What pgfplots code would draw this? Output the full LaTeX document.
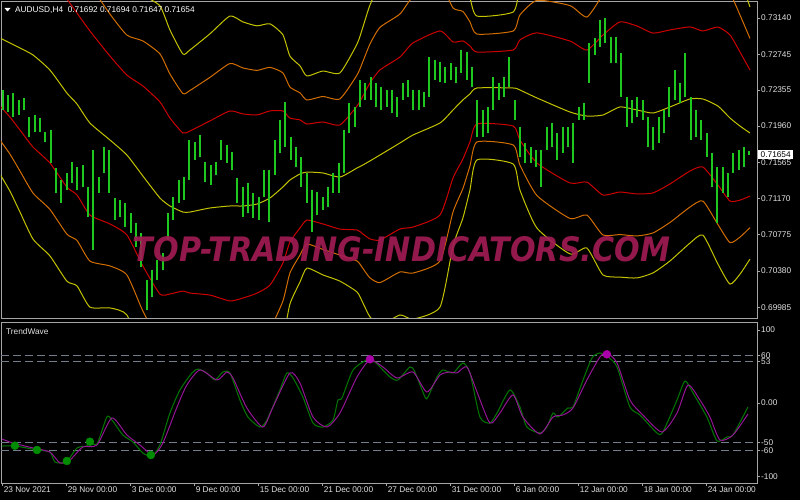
\documentclass[border=0pt]{standalone}
\usepackage{pgfplots}
\pgfplotsset{compat=1.18}
\usepackage{pgfplotstable}
\usetikzlibrary{calc}
\usepackage{graphicx}
\usepackage{fontspec}
\setmainfont{Liberation Sans}
\newfontfamily\wmfont{DejaVu Sans}

\definecolor{framec}{RGB}{165,165,165}
\definecolor{labc}{RGB}{225,225,225}
\definecolor{barg}{RGB}{30,200,30}
\definecolor{bandy}{RGB}{195,195,0}
\definecolor{bando}{RGB}{210,110,0}
\definecolor{bandr}{RGB}{205,0,0}
\definecolor{oscg}{RGB}{0,120,0}
\definecolor{oscm}{RGB}{150,20,150}
\definecolor{dotg}{RGB}{0,140,0}
\definecolor{dotm}{RGB}{170,0,170}
\definecolor{lvl}{RGB}{115,125,140}
\definecolor{wmc}{RGB}{160,28,84}

\pgfdeclarelayer{bg}
\pgfsetlayers{bg,main}

\newcommand\lbl{\fontsize{8.3bp}{10bp}\selectfont}

% bands: middle line and 2/3/4 width envelopes (price)
\pgfplotstableread{
x mid u2 u3 u4 l2 l3 l4
0 0.72921 0.73663 0.74034 0.74405 0.72179 0.71808 0.71437
3.75 0.72867 0.73675 0.74079 0.74483 0.72059 0.71655 0.71251
7.5 0.72812 0.73706 0.74153 0.74600 0.71918 0.71471 0.71024
12.4 0.72736 0.73740 0.74242 0.74744 0.71732 0.71230 0.70728
18.75 0.72572 0.73586 0.74093 0.74600 0.71558 0.71051 0.70544
25.1 0.72321 0.73347 0.73860 0.74373 0.71295 0.70782 0.70269
28.9 0.72201 0.73193 0.73689 0.74185 0.71209 0.70713 0.70217
33.75 0.71994 0.72998 0.73500 0.74002 0.70990 0.70488 0.69986
41.25 0.71809 0.72725 0.73183 0.73641 0.70893 0.70435 0.69977
47.6 0.71645 0.72517 0.72953 0.73389 0.70773 0.70337 0.69901
53.6 0.71416 0.72398 0.72889 0.73380 0.70434 0.69943 0.69452
60 0.71176 0.72224 0.72748 0.73272 0.70128 0.69604 0.69080
63.75 0.71089 0.72049 0.72529 0.73009 0.70129 0.69649 0.69169
68.6 0.71023 0.71885 0.72316 0.72747 0.70161 0.69730 0.69299
71.25 0.71023 0.71907 0.72349 0.72791 0.70139 0.69697 0.69255
78.75 0.71067 0.72017 0.72492 0.72967 0.70117 0.69642 0.69167
86.25 0.71089 0.72125 0.72643 0.73161 0.70053 0.69535 0.69017
91.1 0.71089 0.72093 0.72595 0.73097 0.70085 0.69583 0.69081
96.4 0.71110 0.72082 0.72568 0.73054 0.70138 0.69652 0.69166
101.25 0.71176 0.72126 0.72601 0.73076 0.70226 0.69751 0.69276
106.1 0.71296 0.72126 0.72541 0.72956 0.70466 0.70051 0.69636
108.75 0.71372 0.72048 0.72386 0.72724 0.70696 0.70358 0.70020
112.5 0.71438 0.72028 0.72323 0.72618 0.70848 0.70553 0.70258
115.1 0.71459 0.71983 0.72245 0.72507 0.70935 0.70673 0.70411
121.1 0.71449 0.72005 0.72283 0.72561 0.70893 0.70615 0.70337
127.5 0.71405 0.71973 0.72257 0.72541 0.70837 0.70553 0.70269
133.9 0.71503 0.72179 0.72517 0.72855 0.70827 0.70489 0.70151
136.1 0.71536 0.72288 0.72664 0.73040 0.70784 0.70408 0.70032
138.75 0.71580 0.72430 0.72855 0.73280 0.70730 0.70305 0.69880
142.5 0.71645 0.72573 0.73037 0.73501 0.70717 0.70253 0.69789
150 0.71776 0.72714 0.73183 0.73652 0.70838 0.70369 0.69900
154.9 0.71863 0.72867 0.73369 0.73871 0.70859 0.70357 0.69855
165 0.71994 0.72998 0.73500 0.74002 0.70990 0.70488 0.69986
169.9 0.72136 0.72878 0.73249 0.73620 0.71394 0.71023 0.70652
173.6 0.72245 0.72889 0.73211 0.73533 0.71601 0.71279 0.70957
176.25 0.72311 0.72835 0.73097 0.73359 0.71787 0.71525 0.71263
178.9 0.72376 0.72768 0.72964 0.73160 0.71984 0.71788 0.71592
192.4 0.72376 0.72790 0.72997 0.73204 0.71962 0.71755 0.71548
195 0.72354 0.72900 0.73173 0.73446 0.71808 0.71535 0.71262
201.4 0.72267 0.72977 0.73332 0.73687 0.71557 0.71202 0.70847
213.75 0.72114 0.72888 0.73275 0.73662 0.71340 0.70953 0.70566
220.1 0.72070 0.72790 0.73150 0.73510 0.71350 0.70990 0.70630
226.1 0.72081 0.72953 0.73389 0.73825 0.71209 0.70773 0.70337
232.5 0.72169 0.73097 0.73561 0.74025 0.71241 0.70777 0.70313
238.9 0.72136 0.73052 0.73510 0.73968 0.71220 0.70762 0.70304
244.9 0.72103 0.72975 0.73411 0.73847 0.71231 0.70795 0.70359
251.25 0.72169 0.73009 0.73429 0.73849 0.71329 0.70909 0.70489
258.75 0.72256 0.73042 0.73435 0.73828 0.71470 0.71077 0.70684
263.6 0.72256 0.72998 0.73369 0.73740 0.71514 0.71143 0.70772
269.25 0.72179 0.73041 0.73472 0.73903 0.71317 0.70886 0.70455
273.75 0.72049 0.72955 0.73408 0.73861 0.71143 0.70690 0.70237
277.5 0.71961 0.72769 0.73173 0.73577 0.71153 0.70749 0.70345
281.25 0.71885 0.72573 0.72917 0.73261 0.71197 0.70853 0.70509
}\bands

% H4 bars (every other bar): bar index, low, high
\pgfplotstableread{
b lo hi
1 0.72136 0.72354
3 0.72114 0.72300
5 0.72060 0.72321
7 0.72081 0.72245
9 0.72136 0.72267
11 0.71841 0.72060
13 0.71896 0.72081
15 0.71896 0.72049
17 0.71787 0.71896
19 0.71558 0.71918
21 0.71230 0.71503
23 0.71121 0.71372
25 0.71263 0.71449
27 0.71340 0.71569
29 0.71263 0.71514
31 0.71296 0.71536
33 0.70969 0.71296
35 0.70609 0.71700
37 0.71230 0.71405
39 0.71449 0.71732
41 0.71230 0.71700
43 0.70936 0.71176
45 0.70969 0.71154
47 0.70859 0.71121
49 0.70794 0.71012
51 0.70641 0.70903
53 0.70423 0.70794
55 0.69954 0.70281
57 0.70096 0.70390
59 0.70281 0.70499
61 0.70390 0.70576
63 0.70718 0.71012
65 0.70936 0.71187
67 0.71121 0.71372
69 0.71154 0.71405
71 0.71372 0.71809
73 0.71590 0.71787
75 0.71623 0.71863
77 0.71350 0.71569
79 0.71318 0.71536
81 0.71427 0.71569
83 0.71590 0.71809
85 0.71558 0.71754
87 0.71481 0.71678
89 0.71121 0.71394
91 0.70969 0.71296
93 0.71012 0.71340
95 0.70958 0.71230
97 0.70936 0.71187
99 0.71187 0.71481
101 0.70914 0.71481
103 0.71427 0.71809
105 0.71667 0.72027
107 0.71732 0.72223
109 0.71590 0.71841
111 0.71514 0.71732
113 0.71296 0.71623
115 0.71121 0.71449
117 0.70805 0.71263
119 0.70990 0.71241
121 0.71045 0.71187
123 0.71078 0.71296
125 0.71230 0.71449
127 0.71230 0.71558
129 0.71449 0.71918
131 0.71885 0.72212
133 0.71950 0.72169
135 0.72169 0.72463
137 0.72245 0.72431
139 0.72245 0.72496
141 0.72169 0.72431
143 0.72136 0.72387
145 0.72169 0.72354
147 0.72103 0.72354
149 0.72060 0.72278
151 0.72245 0.72431
153 0.72278 0.72463
155 0.72136 0.72354
157 0.72136 0.72354
159 0.72169 0.72332
161 0.72278 0.72714
163 0.72463 0.72681
165 0.72441 0.72660
167 0.72431 0.72605
169 0.72463 0.72649
171 0.72431 0.72605
173 0.72540 0.72790
175 0.72463 0.72769
177 0.72387 0.72605
179 0.71841 0.72245
181 0.71841 0.72136
183 0.71885 0.72169
185 0.72136 0.72496
187 0.72245 0.72431
189 0.72278 0.72496
191 0.72387 0.72714
193 0.72027 0.72245
195 0.71623 0.71950
197 0.71558 0.71776
199 0.71558 0.71732
201 0.71514 0.71700
203 0.71296 0.71700
205 0.71700 0.71950
207 0.71732 0.71994
209 0.71590 0.71885
211 0.71667 0.71950
213 0.71732 0.71950
215 0.71558 0.71994
217 0.72027 0.72169
219 0.72027 0.72212
221 0.72431 0.72867
223 0.72736 0.72921
225 0.72823 0.73118
227 0.72867 0.73140
229 0.72649 0.72932
231 0.72649 0.72932
233 0.72278 0.72758
235 0.71950 0.72278
237 0.71994 0.72245
239 0.72060 0.72278
241 0.72027 0.72245
243 0.71732 0.72060
245 0.71700 0.71950
247 0.71776 0.72060
249 0.71885 0.72136
251 0.72060 0.72387
253 0.72245 0.72572
255 0.72212 0.72431
257 0.72278 0.72758
259 0.71809 0.72278
261 0.71841 0.72136
263 0.71809 0.72027
265 0.71623 0.71885
267 0.71296 0.71667
269 0.70903 0.71514
271 0.71230 0.71514
273 0.71187 0.71449
275 0.71449 0.71667
277 0.71481 0.71700
279 0.71514 0.71732
281 0.71647 0.71694
}\bars

\pgfplotsset{mtpanel/.style={
  scale only axis, width=756bp, xmin=0.4, xmax=283.9,
  axis line style={draw=framec, line width=0.8bp},
  tick style={draw=framec, line width=0.6bp},
  tick align=outside, major tick length=3bp,
  ytick pos=right, yticklabel pos=right,
  yticklabel style={font=\lbl, text=labc, anchor=west, inner sep=1bp},
  xticklabel style={font=\lbl, text=labc, anchor=north west, inner sep=1bp},
}}

\begin{document}
\begin{tikzpicture}[x=1bp,y=1bp]

% price panel
\begin{axis}[mtpanel, name=up, height=317bp,
  ymin=0.69867, ymax=0.73325, xtick=\empty,
  ytick={0.69985,0.70380,0.70775,0.71170,0.71565,0.71960,0.72355,0.72745,0.73140},
  yticklabels={0.69985,0.70380,0.70775,0.71170,0.71565,0.71960,0.72355,0.72745,0.73140}]
\addplot[bandy, line width=1bp, smooth, tension=0.35] table[x=x, y=u4] {\bands};
\addplot[bando, line width=1bp, smooth, tension=0.35] table[x=x, y=u3] {\bands};
\addplot[bandr, line width=1bp, smooth, tension=0.35] table[x=x, y=u2] {\bands};
\addplot[bandy, line width=1bp, smooth, tension=0.35] table[x=x, y=mid] {\bands};
\addplot[bandr, line width=1bp, smooth, tension=0.35] table[x=x, y=l2] {\bands};
\addplot[bando, line width=1bp, smooth, tension=0.35] table[x=x, y=l3] {\bands};
\addplot[bandy, line width=1bp, smooth, tension=0.35] table[x=x, y=l4] {\bands};
\addplot[draw=none, mark=none, error bars/.cd, y dir=both, y explicit, error mark=none,
  error bar style={draw=barg, line width=2bp}]
  table[x=b, y expr={(\thisrow{lo}+\thisrow{hi})/2}, y error expr={(\thisrow{hi}-\thisrow{lo})/2}] {\bars};
\coordinate (pb) at (axis cs:283.9,0.71654);
\end{axis}

\coordinate (TL) at (up.north west);

\node[fill=white, text=black, anchor=west, inner xsep=2.5bp, inner ysep=1.5bp, font=\lbl] at ([xshift=1bp]pb) {0.71654};

\node[text=wmc, opacity=0.92, inner sep=0pt] at ($(TL)+(400.5,-248)$)
  {\resizebox{537bp}{25bp}{\wmfont\bfseries\itshape TOP-TRADING-INDICATORS.COM}};

\fill[white] ($(TL)+(3.5,-7)$) -- ++(6,0) -- ++(-3,-3.5) -- cycle;
\node[anchor=base west, inner sep=0pt, text=white, font=\lbl] at ($(TL)+(14,-12)$)
  {AUDUSD,H4\ \ 0.71692 0.71694 0.71647 0.71654};

% oscillator panel
\begin{axis}[mtpanel, name=lo, at={($(up.south west)+(0,-4)$)}, anchor=north west, height=161bp,
  ymin=-101.5, ymax=102.8,
  xtick={1,25,...,265}, xtick pos=bottom,
  xticklabels={23 Nov 2021,29 Nov 00:00,3 Dec 00:00,9 Dec 00:00,15 Dec 00:00,21 Dec 00:00,27 Dec 00:00,31 Dec 00:00,6 Jan 00:00,12 Jan 00:00,18 Jan 00:00,24 Jan 00:00},
  ytick={-93.5,-60,-50,0,53,60,92.6},
  yticklabels={-100,-60,-50,0.00,53,60,100}]
\addplot[lvl, line width=0.9bp, dash pattern=on 8bp off 4bp] coordinates {(0.4,60) (283.9,60)};
\addplot[lvl, line width=0.9bp, dash pattern=on 8bp off 4bp] coordinates {(0.4,53) (283.9,53)};
\addplot[lvl, line width=0.9bp, dash pattern=on 8bp off 4bp] coordinates {(0.4,-50) (283.9,-50)};
\addplot[lvl, line width=0.9bp, dash pattern=on 8bp off 4bp] coordinates {(0.4,-60) (283.9,-60)};
\addplot[oscg, line width=1bp, smooth, tension=0.4] coordinates {
(0.75,-54.6) (5.6,-54.6) (10.1,-57.1) (13.9,-59.6) (18.75,-62.2) (20.6,-74.9) (23.6,-76.1) (25.1,-74.9)
(28.9,-57.1) (32.6,-54.6) (33.75,-49.5) (36.4,-52.0) (40.1,-17.8) (42,-21.6) (46.1,-40.6) (49.9,-49.5)
(53.6,-63.5) (57,-67.3) (60,-53.3) (63.75,-12.7) (67.5,16.5) (72,38.1) (74.25,43.1) (77.6,38.1)
(80.6,29.2) (83.6,39.3) (86.25,38.1) (90,3.8) (93,-17.8) (97.5,-30.5) (100.1,-21.6) (105,16.5)
(107.6,38.1) (109.9,31.7) (113.6,7.6) (117.4,-25.4) (121.1,-30.5) (124.9,-21.6) (126.75,3.8) (128.25,6.3)
(132.4,41.9) (137.6,54.6) (140.6,52.0) (146.25,33.0) (149.25,29.2) (153.75,45.7) (155.6,39.3) (159.4,7.6)
(160.5,7.6) (163.9,33.0) (166.1,41.9) (169.9,38.1) (173.6,50.8) (176.25,38.1) (180,-17.8) (183.75,-25.4)
(186.4,-12.7) (191.25,16.5) (195,-5.1) (197.6,-30.5) (202.5,-38.1) (205.1,-30.5) (207.4,-12.7) (209.25,-17.8)
(213,-6.3) (214.9,-5.1) (218.25,25.4) (222,57.1) (225,63.5) (228,58.4) (231.4,45.7) (236.25,-5.1)
(240,-15.2) (246.4,-38.1) (248.6,-36.8) (253.9,3.8) (256.9,27.9) (259.9,12.7) (265.1,-17.8) (268.9,-48.2)
(272.6,-43.1) (274.9,-40.6) (280.5,-5.1)};
\addplot[oscm, line width=1bp, smooth, tension=0.4] coordinates {
(0.75,-45.7) (4.9,-50.8) (12.4,-57.1) (18.75,-62.2) (22.5,-76.1) (26.25,-72.3) (31.1,-55.8) (36.4,-53.3)
(42,-19.0) (47.6,-40.6) (52.5,-53.3) (57.4,-66.0) (61.1,-50.8) (66.4,-5.1) (70.1,22.8) (75,41.9)
(81.4,29.2) (85.1,39.3) (87.4,31.7) (92.6,-6.3) (98.6,-30.5) (102.4,-5.1) (108.75,38.1) (112.5,25.4)
(117.4,-17.8) (122.6,-30.5) (127.5,-12.7) (133.9,33.0) (138.75,54.6) (143.6,45.7) (148.9,31.7) (154.9,39.3)
(160.1,14.0) (165,35.5) (168.75,39.3) (171.4,38.1) (175.1,45.7) (178.9,14.0) (183.75,-25.4) (187.5,-12.7)
(192.4,10.2) (196.1,-17.8) (202.5,-39.3) (207.4,-17.8) (211.1,-15.2) (214.9,-6.3) (220.1,29.2) (225,58.4)
(227.6,63.5) (231.4,50.8) (236.25,3.8) (241.1,-15.2) (248.25,-36.8) (253.9,-12.7) (258,22.8) (262.5,3.8)
(266.25,-17.8) (270,-47.0) (274.9,-40.6) (280.5,-14.0)};
\addplot[only marks, mark=*, mark size=4bp, draw=dotg, fill=dotg] coordinates {
(5.6,-54.2) (13.9,-59.6) (25.1,-73.6) (33.75,-49.1) (56.6,-66.0)};
\addplot[only marks, mark=*, mark size=4bp, draw=dotm, fill=dotm] coordinates {
(138.75,55.5) (227.6,61.8)};
\end{axis}

\node[anchor=base west, inner sep=0pt, text=labc, font=\lbl] at ($(lo.north west)+(5,-13)$) {TrendWave};

\begin{pgfonlayer}{bg}
\fill[black] ($(TL)+(-1,1)$) rectangle ($(TL)+(799,-499)$);
\end{pgfonlayer}
\pgfresetboundingbox
\path[use as bounding box] ($(TL)+(-1,1)$) rectangle ($(TL)+(799,-499)$);
\end{tikzpicture}
\end{document}
